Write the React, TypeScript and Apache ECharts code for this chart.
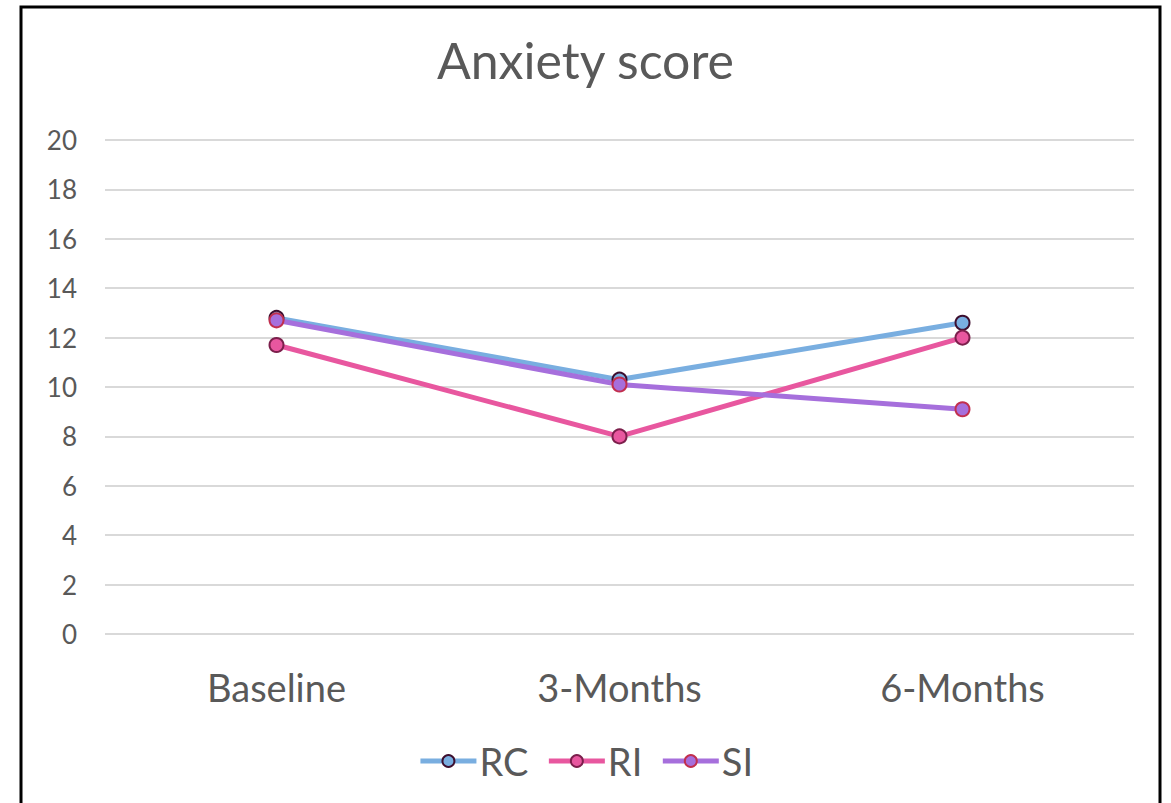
import React, { useEffect, useRef } from "react";
import * as echarts from "echarts";

const categories = ["Baseline", "3-Months", "6-Months"];
const rcValues = [12.8, 10.3, 12.6];
const riValues = [11.7, 8.0, 12.0];
const siValues = [12.7, 10.1, 9.1];
const seriesNames = ["RC", "RI", "SI"];

const FONT = "Lato, 'Open Sans', sans-serif";
const TEXT = "#595959";

export default function App() {
  const ref = useRef<HTMLDivElement>(null);

  useEffect(() => {
    if (!ref.current) return;
    const chart = echarts.init(ref.current, null, { renderer: "svg" });
    const mk = (name: string, data: number[], line: string, fill: string, border: string) => ({
      name,
      type: "line",
      data,
      symbol: "circle",
      symbolSize: 14,
      lineStyle: { color: line, width: 5 },
      itemStyle: { color: fill, borderColor: border, borderWidth: 2 },
      z: 3,
    });
    chart.setOption({
      animation: false,
      backgroundColor: "#ffffff",
      title: {
        text: "Anxiety score",
        left: "center",
        top: 30,
        textStyle: { fontFamily: FONT, fontSize: 50, fontWeight: "normal", color: TEXT },
      },
      graphic: [
        {
          type: "rect",
          shape: { x: 21, y: 7, width: 1139, height: 900 },
          style: { fill: "none", stroke: "#000", lineWidth: 3 },
          silent: true,
        },
      ],
      legend: {
        bottom: 18,
        left: "center",
        itemWidth: 56,
        itemHeight: 15,
        itemGap: 18,
        lineStyle: { width: 5 },
        itemStyle: { borderWidth: 2 },
        textStyle: { fontFamily: FONT, fontSize: 38, color: TEXT, padding: [0, 0, 0, -2] },
        data: seriesNames,
      },
      grid: { left: 105, right: 37, top: 140, bottom: 169 },
      xAxis: {
        type: "category",
        data: categories,
        boundaryGap: true,
        axisLine: { show: false },
        axisTick: { show: false },
        axisLabel: { fontFamily: FONT, fontSize: 38, color: TEXT, margin: 34 },
      },
      yAxis: {
        type: "value",
        min: 0,
        max: 20,
        interval: 2,
        axisLine: { show: false },
        axisTick: { show: false },
        axisLabel: { fontFamily: FONT, fontSize: 26, color: TEXT, margin: 28 },
        splitLine: { lineStyle: { color: "#d9d9d9", width: 2 } },
      },
      series: [
        mk("RC", rcValues, "#79aee0", "#79aee0", "#3d0e2e"),
        mk("RI", riValues, "#e8579f", "#e8579f", "#7c1f4c"),
        mk("SI", siValues, "#a66fdc", "#a66fdc", "#c22f4e"),
      ],
    });
    return () => chart.dispose();
  }, []);

  return (
    <div
      ref={ref}
      style={{ position: "fixed", left: 0, top: 0, width: 1171, height: 803, background: "#fff" }}
    />
  );
}
